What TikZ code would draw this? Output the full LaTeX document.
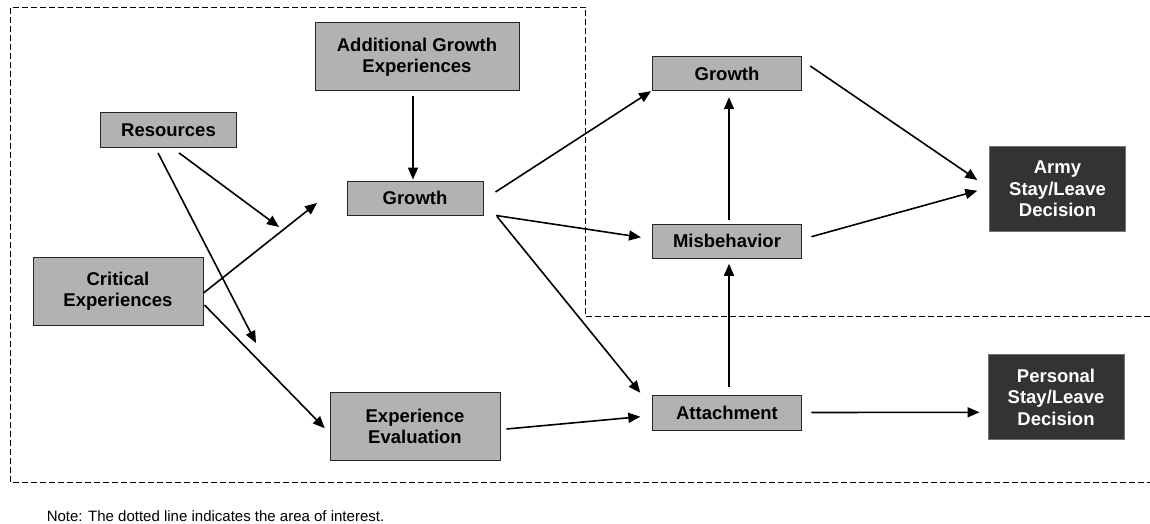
\documentclass[tikz,border=0pt]{standalone}
\usepackage{fontspec}
\setmainfont{Liberation Sans}
\usepackage{tikz}
\usetikzlibrary{arrows.meta}
\definecolor{boxgray}{RGB}{178,178,178}
\definecolor{boxdark}{RGB}{51,51,51}
\tikzset{
  main node/.style={rectangle,draw=black!85,fill=boxgray,line width=1pt,align=center,inner sep=0pt,font=\fontsize{18.5}{21.5}\selectfont\bfseries},
  end node/.style={main node,fill=boxdark,draw=black!55,text=white},
  area line/.style={-,line width=0.9pt,dash pattern=on 6pt off 3pt}
}

\begin{document}
\begin{tikzpicture}[x=1pt,y=-1pt,->,>={Triangle[length=12pt,width=10pt]},line width=1.6pt]
  \useasboundingbox (0,0) rectangle (1150,524);
  % area of interest
  \draw[area line] (1150,316) -- (585.5,316) -- (585.5,7.3) -- (10.7,7.3) -- (10.7,482.7) -- (1150,482.7);

  \node [main node,minimum width=204pt,minimum height=68pt] (addgrowth) at (417,57) {Additional Growth\\Experiences};
  \node [main node,minimum width=136pt,minimum height=34pt] (resources) at (168.5,130) {Resources};
  \node [main node,minimum width=136pt,minimum height=34pt] (growth) at (415,198) {Growth};
  \node [main node,minimum width=170pt,minimum height=68pt] (critical) at (118,291) {Critical\\Experiences};
  \node [main node,minimum width=170pt,minimum height=68pt] (evaluation) at (415,426.5) {Experience\\Evaluation};
  \node [main node,minimum width=149pt,minimum height=34pt] (growthout) at (727,73.7) {Growth};
  \node [main node,minimum width=149pt,minimum height=34pt] (misbehavior) at (727,241) {Misbehavior};
  \node [main node,minimum width=149pt,minimum height=35pt] (attachment) at (727,412.5) {Attachment};
  \node [end node,minimum width=136pt,minimum height=85pt] (army) at (1057.5,189) {Army\\Stay/Leave\\Decision};
  \node [end node,minimum width=136pt,minimum height=85pt] (personal) at (1056,397) {Personal\\Stay/Leave\\Decision};
  \coordinate (resgrowth) at (279,227);
  \coordinate (reseval) at (256,343);
  \coordinate (critgrowth) at (317,203);

  \draw ([shift={(-4,5)}]addgrowth.south) -- ([shift={(-2,-1)}]growth.north);
  \draw ([shift={(10.5,5.4)}]resources.south) -- (resgrowth);
  \draw ([shift={(-10.5,5.4)}]resources.south) -- (reseval);
  \draw ([shift={(0,2)}]critical.east) -- (critgrowth);
  \draw ([shift={(1,14)}]critical.east) -- ([shift={(-4.7,1.8)}]evaluation.west);
  \draw ([shift={(6,2.5)}]evaluation.east) -- ([shift={(-11.7,4.2)}]attachment.west);
  \draw ([shift={(12,-6)}]growth.east) -- ([shift={(-1,0)}]growthout.south west);
  \draw ([shift={(12.5,0)}]growth.south east) -- ([shift={(-11,-3.7)}]misbehavior.west);
  \draw ([shift={(13.5,1)}]growth.south east) -- ([shift={(-11.7,-1.7)}]attachment.north west);
  \draw ([shift={(2,-3.6)}]misbehavior.north) -- ([shift={(2,6)}]growthout.south);
  \draw ([shift={(2,-7.7)}]attachment.north) -- ([shift={(2,5.3)}]misbehavior.south);
  \draw ([shift={(8.3,-7.7)}]growthout.east) -- ([shift={(-11.7,-9)}]army.west);
  \draw ([shift={(9.4,-4.3)}]misbehavior.east) -- ([shift={(-11.7,1.7)}]army.west);
  \draw ([shift={(9.4,0)}]attachment.east) -- ([shift={(-8,15.3)}]personal.west);

  \node [anchor=base west,inner sep=0pt,font=\fontsize{15}{18}\selectfont] (note) at (46,521.5) {Note: The dotted line indicates the area of interest.};
\end{tikzpicture}
\end{document}
